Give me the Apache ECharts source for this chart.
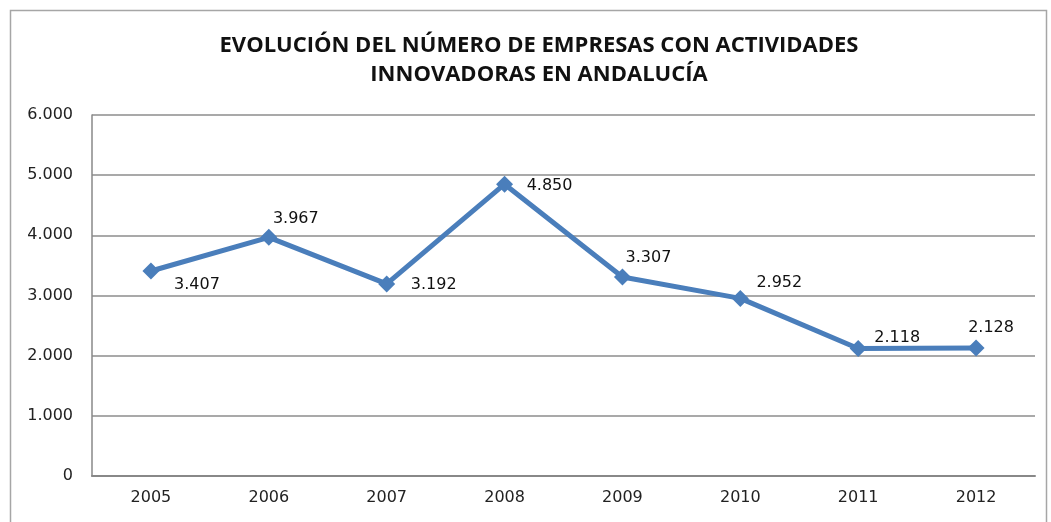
<!DOCTYPE html>
<html>
<head>
<meta charset="utf-8">
<script src="https://cdn.jsdelivr.net/npm/echarts@6/dist/echarts.min.js"></script>
<style>
  html, body { margin: 0; padding: 0; background: #fff; }
  #chart { width: 1051px; height: 522px; }
</style>
</head>
<body>
<div id="chart"></div>
<script>
// datos
const years = ["2005", "2006", "2007", "2008", "2009", "2010", "2011", "2012"];
const empresas = [3407, 3967, 3192, 4850, 3307, 2952, 2118, 2128];
// desplazamiento de cada etiqueta respecto al punto (como en el original)
const labelOffsets = [[46, 14], [27, -18], [47, 1], [45, 2], [26, -19], [39, -16], [39, -11], [15, -20]];

const FONT = "'Century Gothic', 'DejaVu Sans', sans-serif";

function fmt(v) {
  return String(v).replace(/\B(?=(\d{3})+(?!\d))/g, ".");
}

const chart = echarts.init(document.getElementById("chart"));

const option = {
  animation: false,
  textStyle: { fontFamily: FONT },
  title: {
    text: "EVOLUCIÓN DEL NÚMERO DE EMPRESAS CON ACTIVIDADES\nINNOVADORAS EN ANDALUCÍA",
    left: 534,
    top: 26,
    textAlign: "center",
    textStyle: {
      fontFamily: "'Open Sans', sans-serif",
      fontWeight: "bold",
      fontSize: 22,
      lineHeight: 29,
      color: "#111"
    }
  },
  graphic: [{
    type: "rect",
    shape: { x: 10.5, y: 10.5, width: 1036, height: 540 },
    style: { fill: "none", stroke: "#a6a6a6", lineWidth: 1.5 },
    silent: true
  }],
  grid: { left: 92, right: 16, top: 115, bottom: 46, containLabel: false },
  xAxis: {
    type: "category",
    data: years,
    boundaryGap: true,
    axisLine: { lineStyle: { color: "#888", width: 2 } },
    axisTick: { show: false },
    axisLabel: { color: "#222", fontSize: 16, margin: 14, fontFamily: FONT }
  },
  yAxis: {
    type: "value",
    min: 0,
    max: 6000,
    interval: 1000,
    axisLine: { show: true, lineStyle: { color: "#888", width: 1.5 } },
    axisTick: { show: false },
    splitLine: { lineStyle: { color: "#8c8c8c", width: 1.5 } },
    axisLabel: { color: "#222", fontSize: 16, margin: 19, formatter: fmt, fontFamily: FONT }
  },
  series: [{
    name: "Empresas",
    type: "line",
    data: empresas.map((v, i) => ({
      value: v,
      label: { offset: labelOffsets[i] }
    })),
    symbol: "diamond",
    symbolSize: 17,
    lineStyle: { color: "#4a7ebb", width: 5 },
    itemStyle: { color: "#4a7ebb" },
    label: {
      show: true,
      position: "inside",
      color: "#111",
      fontSize: 16,
      fontFamily: FONT,
      formatter: p => fmt(p.value)
    }
  }]
};

chart.setOption(option);
</script>
</body>
</html>
